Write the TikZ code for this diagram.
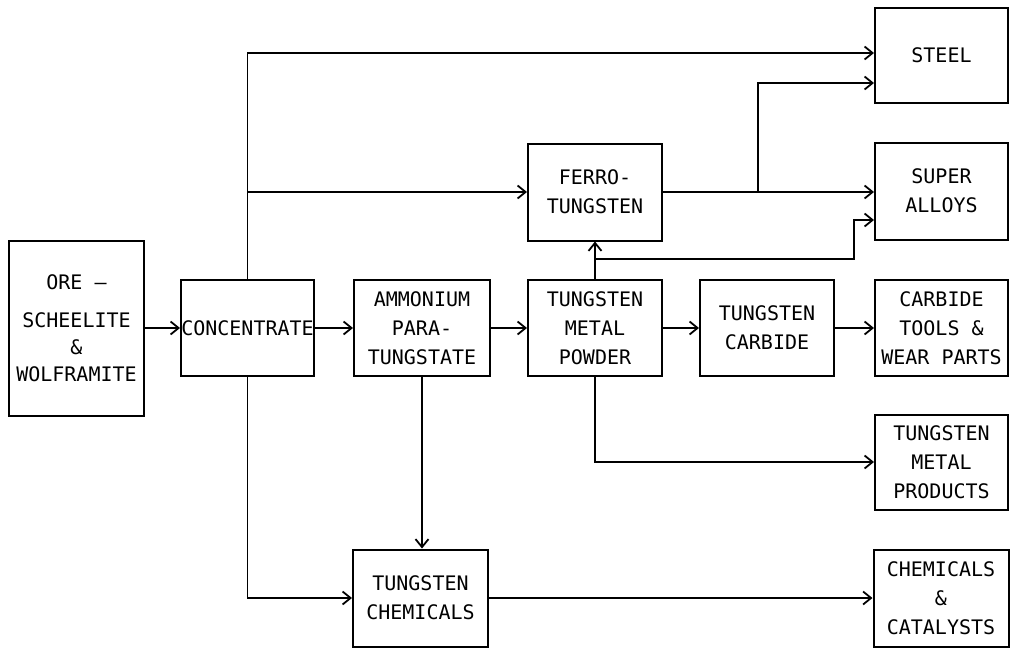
\documentclass[tikz,border=0pt]{standalone}
\usepackage{fontspec}
\newfontfamily\lett{DejaVu Sans Mono}
\usetikzlibrary{arrows.meta}
\begin{document}
\begin{tikzpicture}[x=1pt,y=-1pt,
  box/.style={draw, line width=2pt, minimum width=134pt, minimum height=96pt,
    inner sep=0pt, align=center, font=\lett\fontsize{20}{29}\selectfont},
  link/.style={line width=1.8pt},
  arr/.style={link, -{Straight Barb[length=8pt,width=13pt]}}]
\useasboundingbox (0,0) rectangle (1013,648);

\node[box, minimum height=175pt, minimum width=135pt, font=\lett\fontsize{20}{27}\selectfont] (ore) at (76.5,328)
  {ORE —\\[11pt]SCHEELITE\\\&\\WOLFRAMITE};
\node[box, minimum width=133pt] (conc) at (247.5,328) {CONCENTRATE};
\node[box, minimum width=136pt] (apt) at (422,328) {AMMONIUM\\PARA-\\TUNGSTATE};
\node[box] (tmp) at (595,328) {TUNGSTEN\\METAL\\POWDER};
\node[box] (wc) at (767,328) {TUNGSTEN\\CARBIDE};
\node[box, minimum width=133pt] (tools) at (941.5,328) {CARBIDE\\TOOLS \&\\WEAR PARTS};
\node[box, minimum height=97pt] (ferro) at (595,192) {FERRO-\\TUNGSTEN};
\node[box, minimum width=133pt, minimum height=95pt] (steel) at (941.5,55.5) {STEEL};
\node[box, minimum width=133pt, minimum height=97pt] (super) at (941.5,191) {SUPER\\ALLOYS};
\node[box, minimum width=133pt, minimum height=95pt] (prod) at (941.5,462) {TUNGSTEN\\METAL\\PRODUCTS};
\node[box, minimum width=135pt, minimum height=97pt] (tchem) at (420.5,598) {TUNGSTEN\\CHEMICALS};
\node[box, minimum width=135pt, minimum height=97pt] (cat) at (941,598) {CHEMICALS\\\&\\CATALYSTS};

\draw[arr] (ore) -- (conc);
\draw[arr] (conc) -- (apt);
\draw[arr] (apt) -- (tmp);
\draw[arr] (tmp) -- (wc);
\draw[arr] (wc) -- (tools);

\draw[arr] (conc.north) |- ([yshift=2.5pt]steel.west);
\draw[arr] (conc.north |- ferro.west) -- (ferro.west);
\draw[arr] (ferro.east) -- (ferro.east -| super.west);
\coordinate (br) at (758,192);
\draw[arr] (br) |- ([yshift=-27.5pt]steel.west);

\draw[arr] (tmp.north) -- (ferro.south);
\coordinate (j) at (595,259);
\coordinate (k) at (854,259);
\draw[arr] (j) -- (k) |- ([yshift=-29pt]super.west);

\draw[arr] (conc.south) |- (tchem.west);
\draw[arr] (apt.south) -- (apt.south |- tchem.north);
\draw[arr] (tchem) -- (cat);
\draw[arr] (tmp.south) |- (prod.west);
\end{tikzpicture}
\end{document}
